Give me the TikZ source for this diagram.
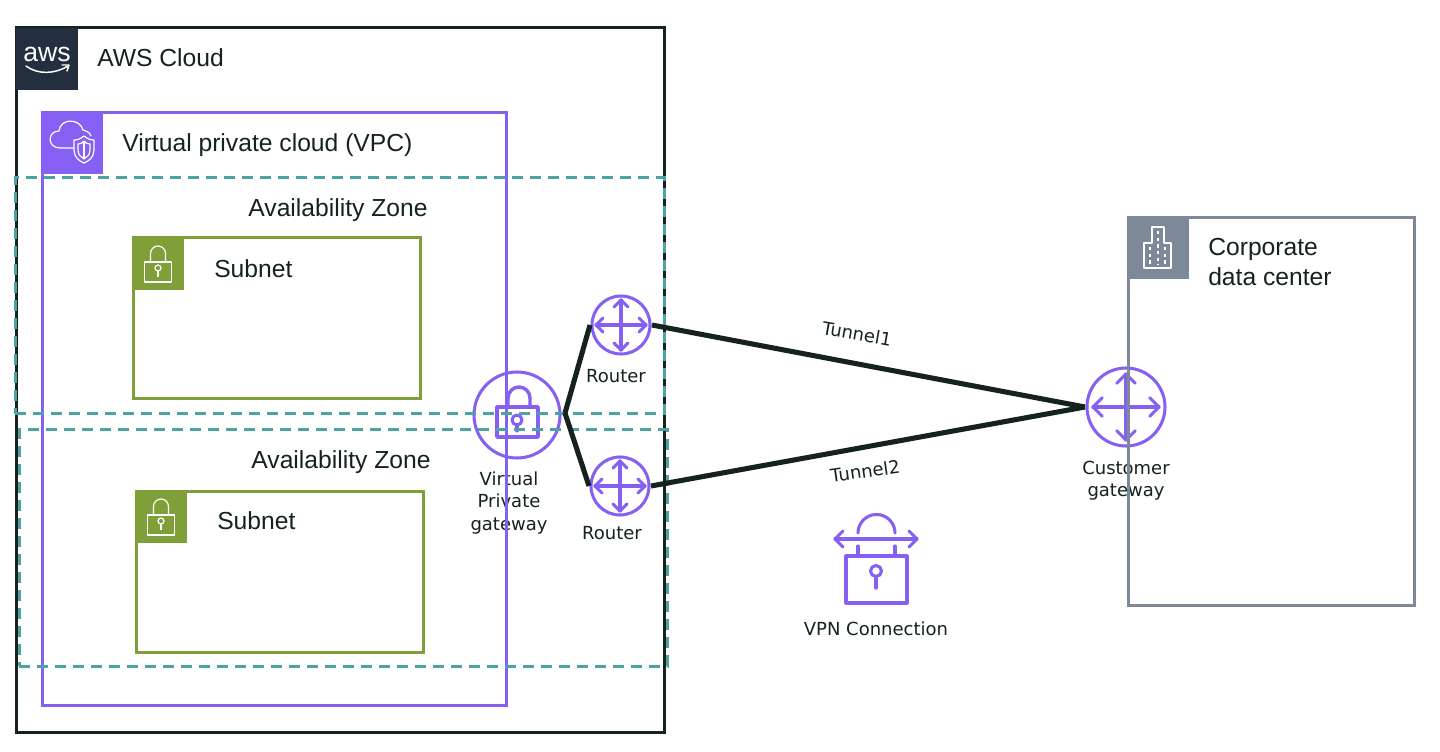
\documentclass[tikz,border=0pt]{standalone}
\usepackage{fontspec}
\setmainfont{Liberation Sans}
\newfontfamily\iconlabel{DejaVu Sans}
\definecolor{inkc}{HTML}{14231C}
\definecolor{awsdark}{HTML}{232F3E}
\definecolor{vpcpurple}{HTML}{8660F3}
\definecolor{azteal}{HTML}{4BA3A3}
\definecolor{subolive}{HTML}{7F9F38}
\definecolor{dcgray}{HTML}{7D8998}
\newcommand{\pxbox}[7][]{%
  \node[#3,#1,minimum width={(#6-#4)*0.75pt},minimum height={(#7-#5)*0.75pt}] (#2) at ({(#4+#6)/2},{(#5+#7)/2}) {};}
\tikzset{
  x=0.75pt,y=-0.75pt,
  container/.style={draw,inner sep=0pt,outer sep=0pt,rectangle,line width=2.25pt},
  awsbox/.style={container,draw=inkc},
  vpcbox/.style={container,draw=vpcpurple},
  azbox/.style={container,draw=azteal,dash pattern=on 8pt off 5.5pt},
  subnetbox/.style={container,draw=subolive},
  dcbox/.style={container,draw=dcgray},
  header/.style={rectangle,inner sep=0pt,outer sep=0pt,minimum size=46pt},
  title/.style={anchor=west,inner sep=0pt,text=inkc,font=\fontsize{18.5}{22.5}\selectfont,align=left},
  azlabel/.style={inner sep=0pt,text=inkc,font=\fontsize{18.5}{22.5}\selectfont},
  small/.style={inner sep=0pt,text=inkc,align=center,font=\iconlabel\fontsize{13.5}{16.6}\selectfont},
  iconline/.style={draw=vpcpurple,line width=2.3pt,line join=round,line cap=round},
  whiteline/.style={draw=white,line width=0.9pt,line join=round},
  ring/.style={circle,draw=vpcpurple,line width=2.3pt,inner sep=0pt,outer sep=1.5pt},
  tunnel/.style={draw=inkc,line width=3.8pt},
  crossarrows/.pic={
    \draw[iconline] (-25,0) -- (25,0) (0,-25) -- (0,25);
    \draw[iconline] (-18,-7) -- (-25,0) -- (-18,7);
    \draw[iconline] (18,-7) -- (25,0) -- (18,7);
    \draw[iconline] (-7,-18) -- (0,-25) -- (7,-18);
    \draw[iconline] (-7,18) -- (0,25) -- (7,18);
  },
  smalllock/.pic={
    \draw[whiteline] (-13.5,-6) rectangle (13.5,14);
    \draw[whiteline] (-7.5,-6) -- (-7.5,-14.5) arc[start angle=180,end angle=360,radius=7.5] -- (7.5,-6);
    \draw[whiteline] (0,0) circle (3);
    \draw[whiteline] (0,3) -- (0,9);
  }
}
\begin{document}
\begin{tikzpicture}
\useasboundingbox (0,0) rectangle (1440,752);
% icons and their rings lie under the container outlines
\node[ring,minimum size=64.5pt] (vgw) at (517,415) {};
\coordinate (vgwtip) at (565,413);
\draw[iconline,line width=2.6pt] (497,407) rectangle (538,437);
\draw[iconline,line width=2.6pt] (508,407) -- (508,398) arc[start angle=180,end angle=360,radius=11] -- (530,407);
\draw[iconline] (517,420) circle (5);
\draw[iconline] (517,425) -- (517,431);

\node[ring,minimum size=43.5pt] (r1) at (621,325) {};
\pic at (r1.center) {crossarrows};
\node[ring,minimum size=43.5pt] (r2) at (620,486) {};
\pic at (r2.center) {crossarrows};
\node[ring,minimum size=58.5pt] (cgw) at (1126,407) {};
\pic[scale=1.32] at (cgw.center) {crossarrows};

\node[small] (lvgw) at (509,503) {Virtual\\Private\\gateway};
\node[small] (lr1) at (616,376) {Router};
\node[small] (lr2) at (612,533) {Router};
\node[small] (lcgw) at (1126,481) {Customer\\gateway};

% containers
\pxbox{awscloud}{awsbox}{16}{28}{664}{732}
\pxbox{vpc}{vpcbox}{42}{113}{506}{705}
\pxbox{az1}{azbox}{15}{178}{664}{414}
\pxbox{az2}{azbox}{19}{430}{667}{666}
\pxbox{sn1}{subnetbox}{133}{238}{420}{399}
\pxbox{sn2}{subnetbox}{136}{491}{423}{652}
\pxbox{dc}{dcbox}{1128}{218}{1414}{605}

% header tiles
\node[header,fill=awsdark] (hawst) at (47,59) {};
\node[inner sep=0pt,text=white,font=\fontsize{20}{20}\selectfont] (awsword) at (47,54) {aws};
\draw[white,line width=1.1pt,line cap=round] (26,66) .. controls (38,75) and (55,74) .. (68,66);
\draw[white,line width=1.1pt,line cap=round,line join=round] (62,65) -- (69,65) -- (67,71);

\node[header,fill=vpcpurple] (hvpc) at (72,143) {};
\draw[whiteline] (74,148) -- (60,148) .. controls (47,148) and (47,131) .. (59,131) .. controls (60,118) and (80,118) .. (83,130) .. controls (87,131) and (90,133) .. (91,136);
\draw[whiteline,fill=vpcpurple] (84,136) .. controls (80,139) and (78,140) .. (74,140) -- (74,150) .. controls (74,157) and (79,161) .. (84,163) .. controls (89,161) and (94,157) .. (94,150) -- (94,140) .. controls (90,140) and (88,139) .. (84,136) -- cycle;
\draw[whiteline] (84,141) .. controls (82,143) and (81,144) .. (78,144) -- (78,150) .. controls (78,155) and (81,157) .. (84,159) .. controls (87,157) and (90,155) .. (90,150) -- (90,144) .. controls (87,144) and (86,143) .. (84,141) -- cycle;
\draw[whiteline] (84,141) -- (84,159);

\node[header,minimum size=39pt,fill=subolive] (hsn1) at (158,264) {};
\pic at (158,268) {smalllock};
\node[header,minimum size=39pt,fill=subolive] (hsn2) at (161,517) {};
\pic at (161,521) {smalllock};

\node[header,fill=dcgray] (hdc) at (1158.5,248) {};
\draw[whiteline] (1144,268) -- (1144,243) -- (1152,243) -- (1152,227) -- (1164,227) -- (1164,243) -- (1171,243) -- (1171,268) -- cycle;
\draw[white,line width=0.9pt,dash pattern=on 2.5pt off 2.5pt] (1158,231) -- (1158,265) (1150,247) -- (1150,265) (1165,247) -- (1165,265);

% titles
\node[title] (tcloud) at (97,58) {AWS Cloud};
\node[title] (tvpc) at (122,145) {Virtual private cloud (VPC)};
\node[azlabel] (taz1) at (338,210) {Availability Zone};
\node[azlabel] (taz2) at (341,462) {Availability Zone};
\node[title] (tsn1) at (214,269) {Subnet};
\node[title] (tsn2) at (217,521) {Subnet};
\node[title] (tdc) at (1208,262) {Corporate\\data center};

% connectors
\draw[tunnel] (vgwtip) -- (r1.west);
\draw[tunnel] (vgwtip) -- (r2.west);
\draw[tunnel] (r1.east) -- (cgw.west);
\draw[tunnel] (r2.east) -- (cgw.west);
\node[small,rotate=-10] (lt1) at (857,334) {Tunnel1};
\node[small,rotate=8] (lt2) at (865,471) {Tunnel2};

% VPN connection icon
\coordinate (vpnc) at (876,571);
\draw[iconline] (846,556) rectangle (907,603);
\draw[iconline] (835,539) -- (917,539);
\draw[iconline] (843,531) -- (835,539) -- (843,547);
\draw[iconline] (909,531) -- (917,539) -- (909,547);
\draw[iconline] (858,533) arc[start angle=180,end angle=360,radius=18.5];
\draw[iconline] (858,546) -- (858,555) (895,546) -- (895,555);
\draw[iconline] (vpnc) circle (5.5);
\draw[iconline] (876,577) -- (876,588);
\node[small] (lvpn) at (876,629) {VPN Connection};
\end{tikzpicture}
\end{document}
